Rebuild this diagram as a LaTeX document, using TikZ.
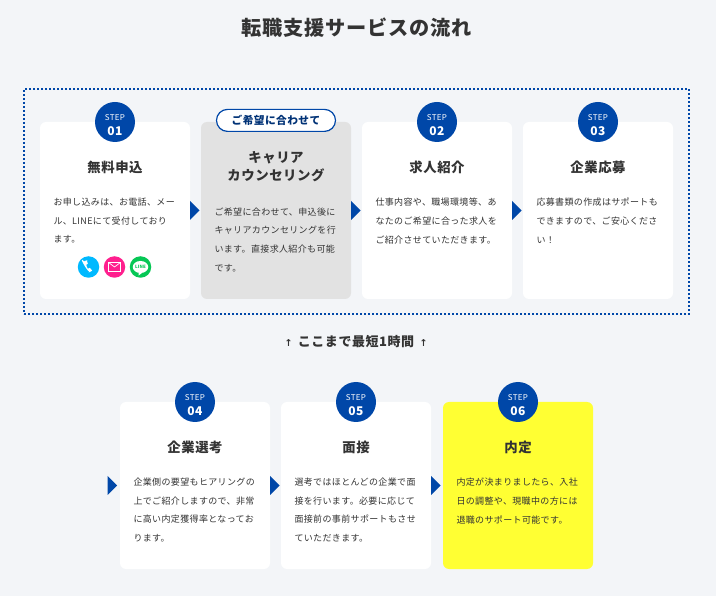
\documentclass[tikz,border=0pt]{standalone}
\usepackage{fontspec}
\setmainfont{Noto Sans CJK JP}[LetterSpace=4]
\newfontfamily\arrowfont{DejaVu Sans}
\usetikzlibrary{positioning,shapes.geometric}
\definecolor{pagebg}{HTML}{F3F5F8}
\definecolor{stepblue}{HTML}{0047A8}
\definecolor{inkgrey}{HTML}{333333}
\definecolor{optgrey}{HTML}{E2E2E2}
\definecolor{goalyellow}{HTML}{FFFF33}
\definecolor{telblue}{HTML}{00B9FF}
\definecolor{mailpink}{HTML}{FF1F8E}
\definecolor{linegreen}{HTML}{06C755}
\newcommand{\steplabel}[1]{{\fontsize{8}{12}\selectfont\rule{0pt}{12.5pt}STEP}\\[2.5pt]{\fontsize{12}{12}\selectfont\bfseries #1}}
\tikzset{
  stepcard/.style={fill=white, rounded corners=6pt, minimum width=150pt, outer sep=0pt, inner sep=0pt},
  stepball/.style={circle, fill=stepblue, text=white, minimum size=40pt, inner sep=0pt, align=center},
  cardtitle/.style={text=inkgrey, inner sep=0pt, align=center, font=\fontsize{13.4}{18.5}\selectfont\bfseries},
  cardbody/.style={text=inkgrey, inner sep=0pt, text width=123pt, align=left, font=\fontsize{9}{18.6}\selectfont},
  nextmark/.style={isosceles triangle, isosceles triangle stretches, shape border rotate=0, fill=stepblue, minimum width=19pt, minimum height=9.5pt, inner sep=0pt, outer sep=0pt},
  iconball/.style={circle, minimum size=21.5pt, inner sep=0pt, outer sep=0pt}
}
\begin{document}
\begin{tikzpicture}[x=1pt,y=-1pt]
  % Page and dotted frame
  \fill[pagebg] (0,0) rectangle (716,596);
  \useasboundingbox (0,0) rectangle (716,596);
  \node (headline) at (356.5,28) [text=inkgrey, font=\fontsize{20.2}{24}\selectfont\bfseries] {転職支援サービスの流れ};
  \node (frame) at (356.5,201.5) [draw=stepblue, line width=2pt, dash pattern=on 2pt off 2pt, minimum width=665pt, minimum height=225pt] {};
  % Upper row of cards
  \node (cardA) at (115,210.5) [stepcard, minimum height=177pt] {};
  \node (cardB) [stepcard, minimum height=177pt, fill=optgrey, right=11pt of cardA] {};
  \node (cardC) [stepcard, minimum height=177pt, right=11pt of cardB] {};
  \node (cardD) [stepcard, minimum height=177pt, right=11pt of cardC] {};
  % Lower row of cards
  \node (cardE) at (195,485.5) [stepcard, minimum height=167pt] {};
  \node (cardF) [stepcard, minimum height=167pt, right=11pt of cardE] {};
  \node (cardG) [stepcard, minimum height=167pt, fill=goalyellow, right=12pt of cardF] {};
  % Step balls
  \node (ballA) at (cardA.north) [stepball] {\steplabel{01}};
  \node (ballC) at (cardC.north) [stepball] {\steplabel{02}};
  \node (ballD) at (cardD.north) [stepball] {\steplabel{03}};
  \node (ballE) at (cardE.north) [stepball] {\steplabel{04}};
  \node (ballF) at (cardF.north) [stepball] {\steplabel{05}};
  \node (ballG) at (cardG.north) [stepball] {\steplabel{06}};
  \node (pillB) [above=-10pt of cardB.north, draw=stepblue, line width=1.2pt, fill=white, rounded corners=11pt, minimum width=119pt, minimum height=22pt, inner sep=0pt, text=stepblue!70!black, font=\fontsize{10.7}{12}\selectfont\bfseries] {ご希望に合わせて};
  % Card titles
  \node (titleA) [cardtitle, below=39pt of cardA.north] {無料申込};
  \node (titleB) [cardtitle, below=29pt of cardB.north] {キャリア\\カウンセリング};
  \node (titleC) [cardtitle, below=39pt of cardC.north] {求人紹介};
  \node (titleD) [cardtitle, below=39pt of cardD.north] {企業応募};
  \node (titleE) [cardtitle, below=39pt of cardE.north] {企業選考};
  \node (titleF) [cardtitle, below=39pt of cardF.north] {面接};
  \node (titleG) [cardtitle, below=39pt of cardG.north] {内定};
  % Card texts
  \node (bodyA) [cardbody, below=76pt of cardA.north] {お申し込みは、お電話、メー\\ル、LINEにて受付しており\\ます。};
  \node (bodyB) [cardbody, below=85.5pt of cardB.north] {ご希望に合わせて、申込後に\\キャリアカウンセリングを行\\います。直接求人紹介も可能\\です。};
  \node (bodyC) [cardbody, below=76pt of cardC.north] {仕事内容や、職場環境等、あ\\なたのご希望に合った求人を\\ご紹介させていただきます。};
  \node (bodyD) [cardbody, below=76pt of cardD.north] {応募書類の作成はサポートも\\できますので、ご安心くださ\\い！};
  \node (bodyE) [cardbody, below=76pt of cardE.north] {企業側の要望もヒアリングの\\上でご紹介しますので、非常\\に高い内定獲得率となってお\\ります。};
  \node (bodyF) [cardbody, below=76pt of cardF.north] {選考ではほとんどの企業で面\\接を行います。必要に応じて\\面接前の事前サポートもさせ\\ていただきます。};
  \node (bodyG) [cardbody, below=76pt of cardG.north] {内定が決まりましたら、入社\\日の調整や、現職中の方には\\退職のサポート可能です。};
  % Triangles between the cards
  \node (markA) [nextmark, right=0pt of cardA] {};
  \node (markB) [nextmark, right=0pt of cardB] {};
  \node (markC) [nextmark, right=0pt of cardC] {};
  \node (markE) [nextmark, left=3pt of cardE] {};
  \node (markF) [nextmark, right=0pt of cardE] {};
  \node (markG) [nextmark, right=0pt of cardF] {};
  % Contact icons
  \node (iconMail) at (114.5,267) [iconball, fill=mailpink] {};
  \node (iconTel) [iconball, fill=telblue, left=4.5pt of iconMail] {};
  \node (iconLine) [iconball, fill=linegreen, right=4.5pt of iconMail] {};
  \fill[white] (iconTel) ++(-4.6,-5.6) .. controls +(1.2,-1.2) and +(2.4,-0.6) .. ++(3,-0.8) -- ++(0.9,3.2) -- ++(-1.5,1) .. controls +(0,1.6) and +(0.8,2.8) .. ++(1.9,3.8) -- ++(1.6,-0.8) -- ++(2.4,2.8) .. controls +(-1,1.2) and +(-2,1.6) .. ++(-3,1) .. controls +(-3,-1.6) and +(-6,-7) .. cycle;
  \node (iconEnvelope) at (iconMail) [draw=white, line width=0.7pt, minimum width=12pt, minimum height=9pt, inner sep=0pt, outer sep=0pt] {};
  \draw[white, line width=0.7pt] (iconEnvelope.north west) -- (iconEnvelope.center) -- (iconEnvelope.north east);
  \node (iconBubble) at (iconLine) [ellipse, fill=white, minimum width=15.5pt, minimum height=12pt, inner sep=0pt, text=linegreen, font=\fontsize{4.4}{5}\selectfont\bfseries] {LINE};
  \fill[white] (iconBubble.south) ++(-2,-0.8) -- ++(0,3.2) -- ++(4,-3) -- cycle;
  % Note under the frame
  \node (noteTime) at (356,341.5) [text=inkgrey, font=\fontsize{13}{15}\selectfont\bfseries] {{\arrowfont\fontsize{9.5}{10}\selectfont\bfseries ↑}\hspace{5.5pt}ここまで最短1時間\hspace{5.5pt}{\arrowfont\fontsize{9.5}{10}\selectfont\bfseries ↑}};
\end{tikzpicture}
\end{document}
